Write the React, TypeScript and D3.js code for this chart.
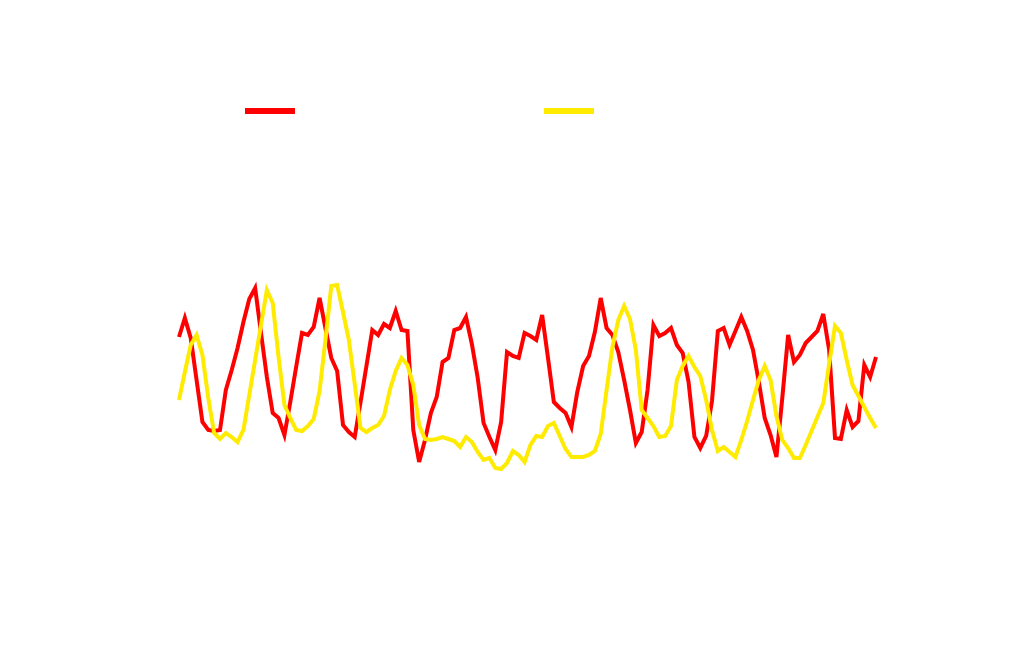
import React from "react";
import * as d3 from "d3";

// Monthly index (120 points)
const redValues: number[] = [
  163,182,162,120,78,70,69,70,110,130,
  152,178,201,212,167,123,87,82,65,98,
  133,167,165,173,202,172,142,129,75,68,
  63,98,134,170,165,176,172,189,170,169,
  70,38,60,87,103,138,142,170,172,183,
  156,122,77,63,50,78,148,144,142,167,
  164,160,185,142,98,92,87,73,108,134,
  144,168,202,172,165,148,120,90,57,68,
  110,175,164,167,172,155,147,118,63,52,
  64,99,169,172,155,169,183,169,150,118,
  82,65,43,102,165,138,145,157,163,169,
  186,150,62,61,90,73,79,135,123,143,
];

const yellowValues: number[] = [
  100,128,155,165,145,102,67,61,67,63,
  58,70,105,140,175,210,197,143,95,82,
  70,69,74,81,109,160,214,215,188,160,
  116,72,68,72,75,84,110,129,142,135,
  115,75,61,60,61,63,61,59,53,63,
  58,48,40,42,32,31,37,49,45,38,
  55,64,63,74,77,64,51,43,43,43,
  45,49,66,110,153,180,194,181,150,90,
  82,74,63,64,74,120,134,144,133,124,
  100,70,49,53,48,43,60,79,100,120,
  134,120,84,60,52,42,42,55,69,83,
  97,136,174,167,140,115,104,93,82,72,
];

const seriesColors = ["#ff0000", "#ffeb00"];

export default function App() {
  const width = 1024;
  const height = 647;
  const x = d3.scaleLinear().domain([0, redValues.length - 1]).range([179, 876]);
  const y = d3.scaleLinear().domain([0, 220]).range([500, 280]);
  const line = d3
    .line<number>()
    .x((_, i) => x(i))
    .y((d) => y(d));

  const series = [redValues, yellowValues];
  const legendX = d3.scaleOrdinal<number, number>().domain([0, 1]).range([245, 544]);

  return (
    <svg
      width={width}
      height={height}
      style={{ position: "absolute", left: 0, top: 0, background: "#fff" }}
    >
      <rect x={0} y={0} width={width} height={height} fill="#fff" />
      {series.map((s, i) => (
        <path
          key={i}
          d={line(s) || ""}
          fill="none"
          stroke={seriesColors[i]}
          strokeWidth={4}
          strokeLinejoin="miter"
        />
      ))}
      {series.map((_, i) => (
        <line
          key={"lg" + i}
          x1={legendX(i)}
          x2={legendX(i) + 50}
          y1={111}
          y2={111}
          stroke={seriesColors[i]}
          strokeWidth={6}
        />
      ))}
    </svg>
  );
}
